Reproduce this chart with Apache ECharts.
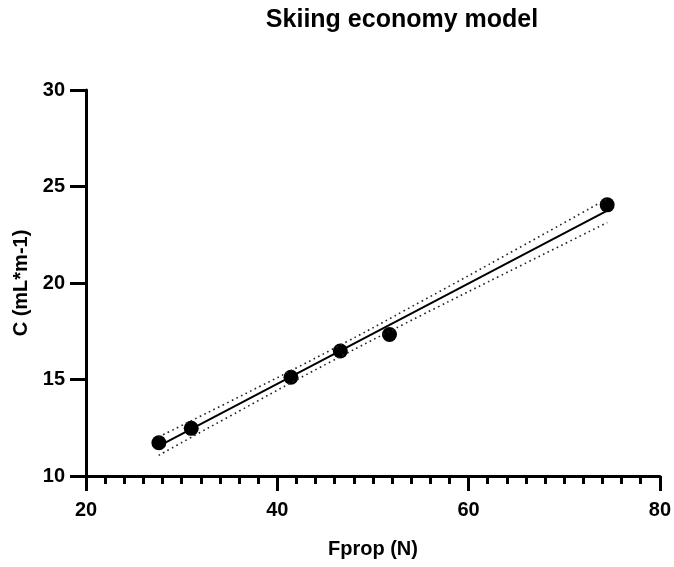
<!DOCTYPE html>
<html><head><meta charset="utf-8">
<script src="https://cdn.jsdelivr.net/npm/echarts@6/dist/echarts.min.js"></script>
<style>html,body{margin:0;padding:0;background:#fff}#c{width:674px;height:567px}</style>
</head><body><div id="c"></div>
<script>
const fprop = [27.62, 31.0, 41.43, 46.59, 51.73, 74.49];
const cost = [11.72, 12.47, 15.12, 16.48, 17.33, 24.05];
const fitX = [27.6, 74.5];
const fitY = [11.55, 23.75];
const bandX = [27.6, 35, 45.5, 55, 65, 74.5];
const bandUpper = [12.03, 13.85, 16.50, 19.03, 21.75, 24.37];
const bandLower = [11.07, 13.09, 15.90, 18.31, 20.79, 23.13];

const pair = (xs, ys) => xs.map((x, i) => [x, ys[i]]);
const font = "'Liberation Sans', Arial, sans-serif";
const chart = echarts.init(document.getElementById('c'));
chart.setOption({
  animation: false,
  title: { text: 'Skiing economy model', left: 397, textAlign: 'center', top: 3,
    textStyle: { fontFamily: font, fontSize: 25, fontWeight: 'bold', color: '#000' } },
  grid: { left: 86, right: 13, top: 90, bottom: 91 },
  xAxis: {
    type: 'value', min: 20, max: 80, interval: 20,
    name: 'Fprop (N)', nameLocation: 'middle', nameGap: 63,
    nameTextStyle: { fontFamily: font, fontSize: 20, fontWeight: 'bold', color: '#000' },
    axisLine: { show: true, lineStyle: { color: '#000', width: 3 } },
    axisTick: { show: true, length: 15, lineStyle: { color: '#000', width: 3 } },
    minorTick: { show: true, splitNumber: 10, length: 8, lineStyle: { color: '#000', width: 3 } },
    axisLabel: { margin: 24, fontFamily: font, fontSize: 20, fontWeight: 'bold', color: '#000' },
    splitLine: { show: false }
  },
  yAxis: {
    type: 'value', min: 10, max: 30, interval: 5,
    name: 'C (mL*m-1)', nameLocation: 'middle', nameGap: 53,
    nameTextStyle: { fontFamily: font, fontSize: 20, fontWeight: 'bold', color: '#000' },
    axisLine: { show: true, lineStyle: { color: '#000', width: 3 } },
    axisTick: { show: true, length: 16, lineStyle: { color: '#000', width: 3 } },
    axisLabel: { margin: 21, fontFamily: font, fontSize: 20, fontWeight: 'bold', color: '#000' },
    splitLine: { show: false }
  },
  series: [
    { type: 'line', data: pair(bandX, bandUpper), smooth: true, symbol: 'none',
      lineStyle: { color: '#222', width: 1.6, type: [1.6, 3.5] } },
    { type: 'line', data: pair(bandX, bandLower), smooth: true, symbol: 'none',
      lineStyle: { color: '#222', width: 1.6, type: [1.6, 3.5] } },
    { type: 'line', data: pair(fitX, fitY), symbol: 'none',
      lineStyle: { color: '#000', width: 2 } },
    { type: 'scatter', data: pair(fprop, cost), symbol: 'circle', symbolSize: 15,
      itemStyle: { color: '#000', opacity: 1 } }
  ]
});
</script></body></html>
